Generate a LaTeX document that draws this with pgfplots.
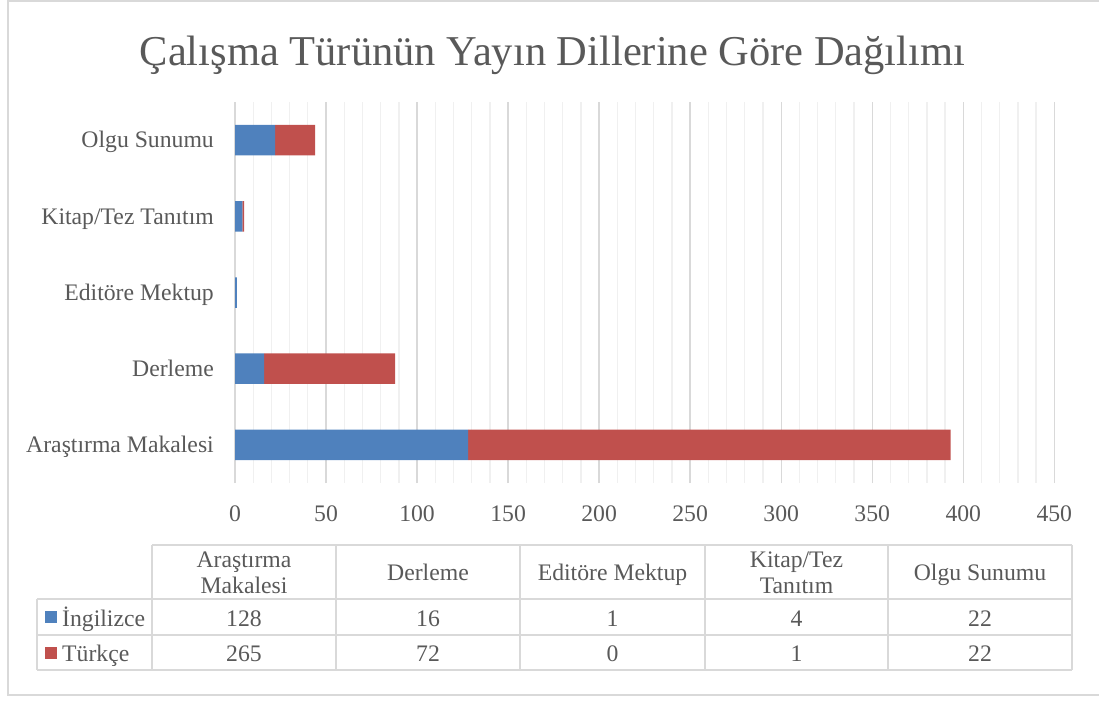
\documentclass[border=0pt]{standalone}
\usepackage{pgfplots}
\pgfplotsset{compat=1.18}
\usepackage{fontspec}
\setmainfont{Liberation Serif}

\definecolor{engblue}{HTML}{4F81BD}
\definecolor{trred}{HTML}{C0504D}
\definecolor{txtgray}{HTML}{595959}
\definecolor{gridmajor}{HTML}{D9D9D9}
\definecolor{gridminor}{HTML}{F0F0F0}
\definecolor{bordergray}{HTML}{D9D9D9}

\newcommand{\lbl}{\fontsize{23.7pt}{24pt}\selectfont}

\begin{document}
\begin{tikzpicture}
\path[use as bounding box] (0,0) rectangle (1099pt,702pt);

\begin{axis}[
    at={(235pt,219pt)}, anchor=south west,
    width=819.3pt, height=381pt, scale only axis,
    xbar stacked,
    bar width=30.5pt,
    xmin=0, xmax=450,
    ymin=-0.5, ymax=4.5,
    xtick={0,50,...,450},
    minor x tick num=4,
    ytick={0,1,2,3,4},
    yticklabels={Araştırma Makalesi, Derleme, Editöre Mektup, Kitap/Tez Tanıtım, Olgu Sunumu},
    xmajorgrids, xminorgrids,
    major grid style={draw=gridmajor, line width=1.4pt},
    minor grid style={draw=gridminor, line width=1.3pt},
    axis line style={draw=none},
    major tick length=0pt, minor tick length=0pt,
    tick style={draw=none},
    /pgf/number format/assume math mode=true,
    ticklabel style={font=\lbl, text=txtgray, inner sep=0pt},
    xticklabel style={anchor=base, yshift=-38pt},
    yticklabel style={anchor=base east, xshift=-21pt, yshift=-7.8pt},
]
% İngilizce
\addplot[fill=engblue, draw=none] coordinates {(128,0) (16,1) (1,2) (4,3) (22,4)};
% Türkçe
\addplot[fill=trred, draw=none] coordinates {(265,0) (72,1) (0,2) (1,3) (22,4)};
\end{axis}

% pixel coordinates from the top left corner
\begin{scope}[x=1pt, y=-1pt, shift={(0pt,702pt)}]
% chart border
\draw[bordergray, line width=1.3pt] (1099,1) -- (8,1) -- (8,695) -- (1099,695);

% title
\node[anchor=base, inner sep=0pt, text=txtgray, font=\fontsize{42.5pt}{44pt}\selectfont]
    at (552.5,66) {Çalışma Türünün Yayın Dillerine Göre Dağılımı};

% data table grid
\begin{scope}[draw=bordergray, line width=1.3pt]
\draw (152,545) -- (1072,545);
\draw (37,599) -- (1072,599);
\draw (37,635) -- (1072,635);
\draw (37,670) -- (1072,670);
\draw (37,599) -- (37,670);
\foreach \cx in {152,336,520,705,888,1072} \draw (\cx,545) -- (\cx,670);
\end{scope}

% legend keys
\fill[engblue] (45,611) rectangle (57,623);
\fill[trred] (45,647) rectangle (57,659);

\begin{scope}[every node/.style={inner sep=0pt, text=txtgray, font=\lbl}]
\node[anchor=base west] at (62,626) {İngilizce};
\node[anchor=base west] at (62,661) {Türkçe};

% header
\node[anchor=base] at (244,567) {Araştırma};
\node[anchor=base] at (244,593.5) {Makalesi};
\node[anchor=base] at (428,580) {Derleme};
\node[anchor=base] at (612.5,580) {Editöre Mektup};
\node[anchor=base] at (796.5,567) {Kitap/Tez};
\node[anchor=base] at (796.5,593.5) {Tanıtım};
\node[anchor=base] at (980,580) {Olgu Sunumu};

% values
\node[anchor=base] at (244,626) {128};
\node[anchor=base] at (428,626) {16};
\node[anchor=base] at (612.5,626) {1};
\node[anchor=base] at (796.5,626) {4};
\node[anchor=base] at (980,626) {22};
\node[anchor=base] at (244,661) {265};
\node[anchor=base] at (428,661) {72};
\node[anchor=base] at (612.5,661) {0};
\node[anchor=base] at (796.5,661) {1};
\node[anchor=base] at (980,661) {22};
\end{scope}
\end{scope}
\end{tikzpicture}
\end{document}
